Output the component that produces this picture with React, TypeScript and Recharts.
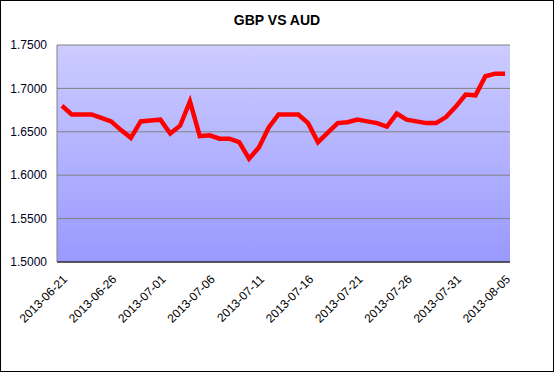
import { LineChart, Line, XAxis, YAxis, CartesianGrid } from "recharts";

const dates = [
  "2013-06-21", "2013-06-22", "2013-06-23", "2013-06-24", "2013-06-25", "2013-06-26",
  "2013-06-27", "2013-06-28", "2013-06-29", "2013-06-30", "2013-07-01", "2013-07-02",
  "2013-07-03", "2013-07-04", "2013-07-05", "2013-07-06", "2013-07-07", "2013-07-08",
  "2013-07-09", "2013-07-10", "2013-07-11", "2013-07-12", "2013-07-13", "2013-07-14",
  "2013-07-15", "2013-07-16", "2013-07-17", "2013-07-18", "2013-07-19", "2013-07-20",
  "2013-07-21", "2013-07-22", "2013-07-23", "2013-07-24", "2013-07-25", "2013-07-26",
  "2013-07-27", "2013-07-28", "2013-07-29", "2013-07-30", "2013-07-31", "2013-08-01",
  "2013-08-02", "2013-08-03", "2013-08-04", "2013-08-05",
];

const gbpAud = [
  1.68, 1.67, 1.67, 1.67, 1.666, 1.662, 1.652, 1.643, 1.662, 1.663, 1.664, 1.648,
  1.657, 1.685, 1.645, 1.646, 1.642, 1.642, 1.638, 1.619, 1.632, 1.655, 1.67, 1.67,
  1.67, 1.66, 1.638, 1.649, 1.66, 1.661, 1.664, 1.662, 1.66, 1.656, 1.671, 1.664,
  1.662, 1.66, 1.66, 1.667, 1.679, 1.693, 1.692, 1.714, 1.717, 1.717,
];

const yTicks = [1.5, 1.55, 1.6, 1.65, 1.7, 1.75];

const data = dates.map((d, i) => ({ date: d, rate: gbpAud[i] }));

const font = "'Liberation Sans', Arial, sans-serif";

export default function App() {
  return (
    <div style={{ position: "absolute", left: 0, top: 0, width: 554, height: 372, background: "#fff", fontFamily: font }}>
      <div style={{ position: "absolute", left: 0, top: 12, width: 554, textAlign: "center", fontWeight: "bold", fontSize: 14, lineHeight: "16px", color: "#000" }}>
        GBP VS AUD
      </div>
      <LineChart width={554} height={372} data={data} margin={{ top: 45, right: 44, bottom: 0, left: 0 }}>
        <defs>
          <linearGradient id="plotBg" x1="0" y1="0" x2="0" y2="1">
            <stop offset="0%" stopColor="#ccccff" />
            <stop offset="100%" stopColor="#9999ff" />
          </linearGradient>
        </defs>
        <CartesianGrid vertical={false} stroke="#808080" fill="url(#plotBg)" fillOpacity={1} />
        <XAxis dataKey="date" scale="band" interval={4} angle={-45} textAnchor="end" height={110} tickLine={false}
          tickMargin={6} axisLine={{ stroke: "#000" }} tick={{ fontSize: 12, fill: "#000", fontFamily: font }} />
        <YAxis domain={[1.5, 1.75]} ticks={yTicks} width={57} tickLine={false} tickMargin={4}
          axisLine={{ stroke: "#808080" }} tick={{ fontSize: 12, fill: "#000022", fontFamily: font }}
          tickFormatter={(v: number) => v.toFixed(4)} />
        <YAxis yAxisId="r" orientation="right" width={0} tick={false} tickLine={false} axisLine={{ stroke: "#808080" }} />
        <Line type="linear" dataKey="rate" stroke="#ff0000" strokeWidth={4.5} dot={false} isAnimationActive={false} />
      </LineChart>
      <div style={{ position: "absolute", left: 0, top: 0, width: 554, height: 372, boxSizing: "border-box", border: "1px solid #000", pointerEvents: "none" }} />
    </div>
  );
}
